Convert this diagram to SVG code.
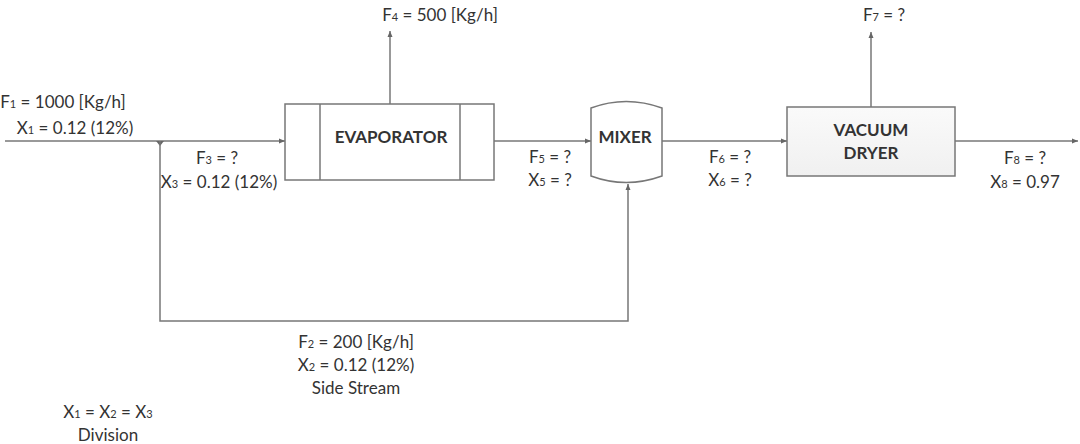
<svg xmlns="http://www.w3.org/2000/svg" width="1080" height="444" viewBox="0 0 1080 444">
<style>
text{font-family:Lato,"Liberation Sans",sans-serif;font-size:17px;fill:#333;text-anchor:middle}
.b{font-weight:bold;font-size:17px}
.s{font-size:11px}
.ln{stroke:#777;stroke-width:1.5;fill:none}
.box{stroke:#777;stroke-width:1.5;fill:#fff}
</style>
<defs>
<marker id="ah" markerWidth="8" markerHeight="8" refX="6" refY="4" orient="auto" markerUnits="userSpaceOnUse">
<path d="M0,1.5 L6,4 L0,6.5 Z" fill="#666"/>
</marker>
<linearGradient id="g" x1="0" y1="0" x2="0" y2="1">
<stop offset="0" stop-color="#fafafa"/><stop offset="1" stop-color="#f0f0f0"/>
</linearGradient>
</defs>
<g id="connectors">
<path class="ln" d="M5,141 H285" marker-end="url(#ah)"/>
<path d="M156,141 L164,141 L160,146 Z" fill="#666"/>
<path class="ln" d="M160,141 V321 H628 V184" marker-end="url(#ah)"/>
<path class="ln" d="M390,104 V31" marker-end="url(#ah)"/>
<path class="ln" d="M494,141 H591" marker-end="url(#ah)"/>
<path class="ln" d="M662,141 H787" marker-end="url(#ah)"/>
<path class="ln" d="M871,107 V32" marker-end="url(#ah)"/>
<path class="ln" d="M955,141 H1078" marker-end="url(#ah)"/>
</g>
<g id="evaporator">
<rect class="box" x="285" y="104" width="209" height="76"/>
<line class="ln" x1="320" y1="104" x2="320" y2="180"/>
<line class="ln" x1="460" y1="104" x2="460" y2="180"/>
<text class="b" x="391" y="143">EVAPORATOR</text>
</g>
<g id="mixer">
<path class="box" d="M591,108 Q626,95 662,108 V176 Q626,189 591,176 Z"/>
<text class="b" x="625" y="143">MIXER</text>
</g>
<g id="dryer">
<rect x="787" y="107" width="168" height="69" fill="url(#g)" stroke="#777" stroke-width="1.5"/>
<text class="b" x="871" y="136">VACUUM</text>
<text class="b" x="871" y="159">DRYER</text>
</g>
<g id="labels">
<text x="63" y="108">F<tspan class="s">1</tspan> = 1000 [Kg/h]</text>
<text x="75" y="134">X<tspan class="s">1</tspan> = 0.12 (12%)</text>
<text x="217" y="164">F<tspan class="s">3</tspan> = ?</text>
<text x="219" y="188">X<tspan class="s">3</tspan> = 0.12 (12%)</text>
<text x="440" y="21">F<tspan class="s">4</tspan> = 500 [Kg/h]</text>
<text x="550" y="163">F<tspan class="s">5</tspan> = ?</text>
<text x="550" y="186">X<tspan class="s">5</tspan> = ?</text>
<text x="730" y="163">F<tspan class="s">6</tspan> = ?</text>
<text x="730" y="186">X<tspan class="s">6</tspan> = ?</text>
<text x="884" y="21">F<tspan class="s">7</tspan> = ?</text>
<text x="1025" y="164">F<tspan class="s">8</tspan> = ?</text>
<text x="1025" y="188">X<tspan class="s">8</tspan> = 0.97</text>
<text x="356" y="348">F<tspan class="s">2</tspan> = 200 [Kg/h]</text>
<text x="356" y="371">X<tspan class="s">2</tspan> = 0.12 (12%)</text>
<text x="356" y="394">Side Stream</text>
<text x="108" y="418">X<tspan class="s">1</tspan> = X<tspan class="s">2</tspan> = X<tspan class="s">3</tspan></text>
<text x="108" y="441">Division</text>
</g>
</svg>
